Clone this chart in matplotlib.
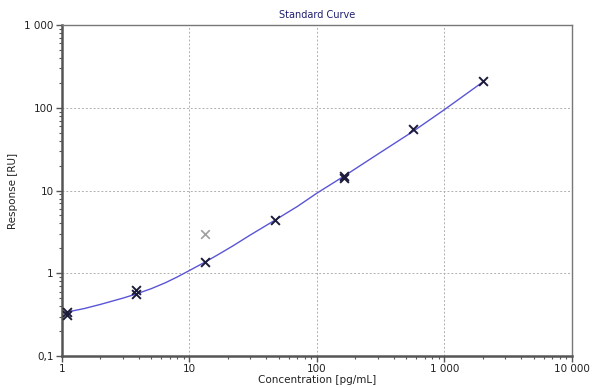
import numpy as np
import matplotlib
matplotlib.use('Agg')
import matplotlib.pyplot as plt
from matplotlib.ticker import FixedLocator, FixedFormatter, LogLocator, NullFormatter

# standards (concentration pg/mL, response RU)
conc = [1.1, 1.1, 3.8, 3.8, 13.2, 46.5, 164, 164, 569, 2000]
resp = [0.34, 0.31, 0.62, 0.56, 1.36, 4.35, 14.0, 15.0, 55, 208]
# excluded point (grey)
out_conc = [13.2]
out_resp = [2.95]

# fitted curve
curve_x = [1.0, 1.5, 2.0, 3.0, 3.8, 5.0, 6.5, 8.0, 10, 13.2, 17, 22, 30, 46.5, 70, 100, 164, 300, 569, 1000, 2000]
curve_y = [0.33, 0.375, 0.42, 0.5, 0.56, 0.65, 0.77, 0.9, 1.08, 1.36, 1.7, 2.15, 2.9, 4.35, 6.4, 9.3, 15.0, 27.5, 52, 95, 205]

xticks = [1, 10, 100, 1000, 10000]
xlabels = ['1', '10', '100', '1 000', '10 000']
yticks = [0.1, 1, 10, 100, 1000]
ylabels = ['0,1', '1', '10', '100', '1 000']

fig = plt.figure(figsize=(6.04, 3.87), dpi=100)
ax = fig.add_axes([0.1026, 0.0801, 0.8444, 0.8553])

ax.plot(curve_x, curve_y, color='#5a55d6', lw=1.0, zorder=2)
ax.scatter(out_conc, out_resp, marker='x', s=38, c='#a0a0a0', linewidths=1.2, zorder=3)
ax.scatter(conc, resp, marker='x', s=40, c='#1c1c3a', linewidths=1.4, zorder=4)

ax.set_xscale('log')
ax.set_yscale('log')
ax.set_xlim(1, 10000)
ax.set_ylim(0.1, 1000)

ax.xaxis.set_major_locator(FixedLocator(xticks))
ax.xaxis.set_major_formatter(FixedFormatter(xlabels))
ax.yaxis.set_major_locator(FixedLocator(yticks))
ax.yaxis.set_major_formatter(FixedFormatter(ylabels))
ax.xaxis.set_minor_locator(LogLocator(base=10, subs=np.arange(2, 10)))
ax.yaxis.set_minor_locator(LogLocator(base=10, subs=np.arange(2, 10)))
ax.xaxis.set_minor_formatter(NullFormatter())
ax.yaxis.set_minor_formatter(NullFormatter())

ax.grid(True, which='major', color='#b0b0b0', linestyle=(0, (2, 2)), lw=0.7)
ax.tick_params(which='major', length=4, width=1, color='#555555', labelsize=7.5, labelcolor='#222222', pad=2)
ax.tick_params(which='minor', length=2.5, width=0.8, color='#555555')

for s in ['left', 'bottom']:
    ax.spines[s].set_linewidth(1.8)
    ax.spines[s].set_color('#555555')
for s in ['top', 'right']:
    ax.spines[s].set_linewidth(1.0)
    ax.spines[s].set_color('#777777')

ax.set_title('Standard Curve', fontsize=7, color='#1f1f6e', pad=5)
ax.set_xlabel('Concentration [pg/mL]', fontsize=7.5, color='#222222')
ax.set_ylabel('Response [RU]', fontsize=7.5, color='#222222')
ax.xaxis.set_label_coords(0.5, -0.056)
ax.yaxis.set_label_coords(-0.086, 0.5)

fig.savefig('out.png', dpi=100)
